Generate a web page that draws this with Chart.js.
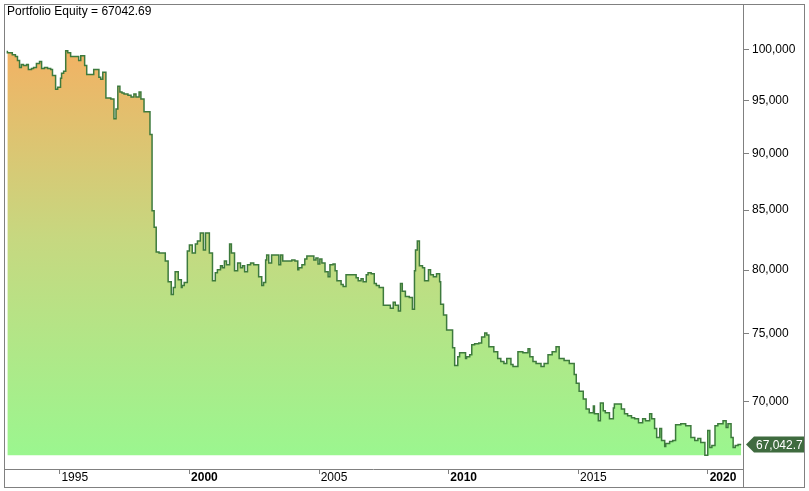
<!DOCTYPE html>
<html>
<head>
<meta charset="utf-8">
<script src="https://cdn.jsdelivr.net/npm/chart.js@4"></script>
<style>
  html, body { margin: 0; padding: 0; background: #fff; }
  #wrap { width: 809px; height: 491px; }
</style>
</head>
<body>
<div id="wrap"><canvas id="equity"></canvas></div>
<script>
// portfolio equity (decimal years)
const years = [
  1992.98, 1993.17, 1993.29, 1993.37, 1993.45, 1993.52, 1993.60, 1993.72, 1993.79, 1993.91,
  1993.99, 1994.10, 1994.22, 1994.30, 1994.41, 1994.53, 1994.65, 1994.72, 1994.84, 1994.92,
  1995.03, 1995.07, 1995.15, 1995.23, 1995.31, 1995.42, 1995.54, 1995.73, 1995.81, 1995.89,
  1995.96, 1996.04, 1996.31, 1996.51, 1996.58, 1996.66, 1996.78, 1996.97, 1997.09, 1997.17,
  1997.24, 1997.32, 1997.40, 1997.48, 1997.63, 1997.75, 1997.86, 1997.94, 1998.06, 1998.13,
  1998.25, 1998.33, 1998.48, 1998.56, 1998.64, 1998.72, 1998.83, 1999.07, 1999.18, 1999.30,
  1999.38, 1999.45, 1999.57, 1999.69, 1999.72, 1999.80, 1999.92, 2000.00, 2000.11, 2000.23,
  2000.31, 2000.42, 2000.54, 2000.62, 2000.69, 2000.77, 2000.89, 2001.00, 2001.08, 2001.20,
  2001.27, 2001.35, 2001.43, 2001.55, 2001.62, 2001.74, 2001.86, 2001.97, 2002.05, 2002.13,
  2002.24, 2002.36, 2002.48, 2002.67, 2002.79, 2002.86, 2002.94, 2002.98, 2003.06, 2003.17,
  2003.33, 2003.45, 2003.52, 2003.60, 2003.72, 2003.95, 2004.07, 2004.18, 2004.22, 2004.34,
  2004.45, 2004.53, 2004.61, 2004.80, 2004.88, 2004.96, 2005.03, 2005.11, 2005.23, 2005.35,
  2005.42, 2005.54, 2005.62, 2005.69, 2005.85, 2005.93, 2006.04, 2006.16, 2006.43, 2006.51,
  2006.62, 2006.70, 2006.82, 2006.89, 2007.01, 2007.13, 2007.21, 2007.32, 2007.48, 2007.59,
  2007.75, 2007.86, 2007.94, 2008.06, 2008.14, 2008.21, 2008.33, 2008.48, 2008.60, 2008.68,
  2008.72, 2008.79, 2008.87, 2008.99, 2009.07, 2009.22, 2009.30, 2009.41, 2009.53, 2009.65,
  2009.69, 2009.80, 2009.92, 2009.96, 2010.15, 2010.23, 2010.35, 2010.42, 2010.50, 2010.65,
  2010.69, 2010.81, 2010.89, 2011.00, 2011.16, 2011.27, 2011.39, 2011.47, 2011.55, 2011.62,
  2011.74, 2011.89, 2012.01, 2012.13, 2012.24, 2012.40, 2012.48, 2012.67, 2012.86, 2013.06,
  2013.13, 2013.25, 2013.37, 2013.56, 2013.68, 2013.83, 2013.99, 2014.14, 2014.26, 2014.45,
  2014.65, 2014.84, 2014.92, 2015.03, 2015.19, 2015.30, 2015.42, 2015.58, 2015.62, 2015.77,
  2015.85, 2015.96, 2016.04, 2016.20, 2016.35, 2016.39, 2016.55, 2016.66, 2016.78, 2016.90,
  2017.05, 2017.17, 2017.32, 2017.48, 2017.59, 2017.75, 2017.83, 2017.94, 2018.02, 2018.14,
  2018.21, 2018.33, 2018.37, 2018.52, 2018.64, 2018.75, 2018.95, 2019.14, 2019.34, 2019.49,
  2019.61, 2019.72, 2019.88, 2019.99, 2020.07, 2020.15, 2020.27, 2020.38, 2020.58, 2020.70,
  2020.77, 2020.89, 2020.97, 2021.05, 2021.16, 2021.28
];
const equity = [
  99900, 99700, 99500, 99300, 98910, 98220, 98520, 98420, 98520, 98020,
  98120, 98220, 98610, 98810, 98120, 98220, 98120, 98020, 97430, 96080,
  96270, 97140, 97630, 97830, 99900, 99700, 99300, 99300, 98910, 99400,
  99400, 98420, 97530, 98020, 97240, 97050, 97730, 95220, 95130, 93240,
  94180, 96370, 95800, 95700, 95600, 95500, 95320, 95600, 95320, 95800,
  95130, 93900, 93900, 91760, 84960, 83550, 81470, 81390, 80740, 79060,
  78050, 78600, 79860, 79220, 78600, 78750, 78990, 81550, 82050, 81390,
  82130, 82380, 83060, 81630, 83060, 83060, 81390, 79140, 79780, 80020,
  80340, 80180, 80740, 80420, 82130, 81390, 79940, 80580, 80180, 80340,
  79860, 80420, 80580, 80420, 79460, 78750, 78990, 80820, 81230, 80580,
  81230, 81230, 80420, 81230, 80740, 80740, 80820, 80740, 80020, 80180,
  80420, 80900, 81150, 81150, 80820, 80980, 80500, 80900, 80580, 79860,
  79460, 80420, 80500, 79940, 79140, 78830, 78670, 79620, 79620, 79380,
  79140, 79300, 79060, 79620, 79780, 79700, 78910, 78750, 78600, 77200,
  77200, 76970, 77430, 77200, 76740, 78910, 78290, 77880, 77800, 76890,
  79940, 81630, 82380, 80340, 80180, 79140, 80020, 79620, 79460, 79700,
  79060, 77280, 76430, 75290, 75290, 73950, 72630, 73280, 73580, 73580,
  73140, 73280, 73430, 74170, 74240, 74310, 74760, 75060, 74910, 74020,
  74020, 73650, 73140, 72920, 72770, 73140, 72700, 72550, 73650, 73580,
  73870, 73280, 72920, 72770, 72550, 72770, 73430, 73650, 74020, 73140,
  72990, 72770, 71970, 71330, 70760, 70200, 69500, 69230, 69710, 69160,
  68680, 69920, 69370, 69230, 68820, 69570, 69850, 69850, 69500, 69160,
  69020, 68890, 68820, 68540, 68820, 68680, 69160, 68820, 68130, 67520,
  68130, 67310, 66910, 67110, 67250, 67310, 68400, 68470, 68330, 67520,
  67310, 67450, 67180, 66310, 68000, 66840, 66980, 68330, 68470, 68680,
  68200, 68470, 67520, 66840, 66980, 67042.69
];
const yTicks = [70000, 75000, 80000, 85000, 90000, 95000, 100000];
const xTicks = [1995, 2000, 2005, 2010, 2015, 2020];
const fillBase = 66310;

const lastValue = equity[equity.length - 1];
const fmt = v => v.toLocaleString('en-US');

const framePlugin = {
    id: 'frame',
    afterDraw(chart) {
        const c = chart.ctx, a = chart.chartArea;
        c.save();
        c.strokeStyle = '#808080';
        c.lineWidth = 1;
        // outer frame + plot separators
        c.strokeRect(4.5, 4.5, 800, 483);
        c.beginPath();
        c.moveTo(a.right + 0.5, 4); c.lineTo(a.right + 0.5, 487);
        c.moveTo(4, a.bottom + 0.5); c.lineTo(a.right, a.bottom + 0.5);
        c.stroke();
        // title
        c.fillStyle = '#000';
        c.font = '12px "Liberation Sans", Arial, sans-serif';
        c.textBaseline = 'middle';
        c.fillText('Portfolio Equity = 67042.69', 7, 12);
        // last value marker
        const y = chart.scales.y.getPixelForValue(lastValue);
        const x0 = a.right + 3;
        c.fillStyle = '#3f6b3f';
        c.beginPath();
        c.moveTo(x0, y);
        c.lineTo(x0 + 8, y - 8);
        c.lineTo(804, y - 8);
        c.lineTo(804, y + 8);
        c.lineTo(x0 + 8, y + 8);
        c.closePath();
        c.fill();
        c.fillStyle = '#fff';
        c.fillText(lastValue.toLocaleString('en-US', {maximumFractionDigits: 1}), x0 + 10, y + 1);
        c.restore();
    }
};

const ctx = document.getElementById('equity').getContext('2d');
new Chart(ctx, {
    type: 'line',
    data: {
        datasets: [{
            data: years.map((yr, i) => ({x: yr, y: equity[i]})),
            stepped: 'after',
            borderColor: '#3d7a3d',
            borderWidth: 1.5,
            pointRadius: 0,
            fill: {value: fillBase},
            backgroundColor: function (context) {
                const area = context.chart.chartArea;
                if (!area) return '#c8d880';
                const g = context.chart.ctx.createLinearGradient(0, area.top, 0, area.bottom);
                g.addColorStop(0, '#fbaa5e');
                g.addColorStop(0.5, '#c6d880');
                g.addColorStop(1, '#98f890');
                return g;
            }
        }]
    },
    options: {
        responsive: true,
        maintainAspectRatio: false,
        animation: false,
        layout: {padding: {left: 4, top: 4, right: 4, bottom: 4}},
        plugins: {legend: {display: false}, tooltip: {enabled: false}},
        scales: {
            x: {
                type: 'linear',
                min: 1992.85,
                max: 2021.35,
                border: {display: false},
                grid: {drawOnChartArea: false, tickLength: 5, color: '#808080'},
                afterBuildTicks: axis => { axis.ticks = xTicks.map(v => ({value: v})); },
                afterFit: axis => { axis.height = 18; },
                ticks: {
                    maxRotation: 0,
                    padding: -4,
                    labelOffset: 15,
                    color: '#000',
                    callback: v => String(v),
                    font: c => ({
                        family: '"Liberation Sans", Arial, sans-serif',
                        size: 12,
                        weight: c.tick && c.tick.value % 10 === 0 ? 'bold' : 'normal'
                    })
                }
            },
            y: {
                type: 'logarithmic',
                position: 'right',
                min: 65400,
                max: 104080,
                border: {display: false},
                grid: {drawOnChartArea: false, tickLength: 6, color: '#808080'},
                afterBuildTicks: axis => { axis.ticks = yTicks.map(v => ({value: v})); },
                afterFit: axis => { axis.width = 62; },
                ticks: {
                    color: '#000',
                    padding: 3,
                    callback: v => fmt(v),
                    font: {family: '"Liberation Sans", Arial, sans-serif', size: 12}
                }
            }
        }
    },
    plugins: [framePlugin]
});
</script>
</body>
</html>
